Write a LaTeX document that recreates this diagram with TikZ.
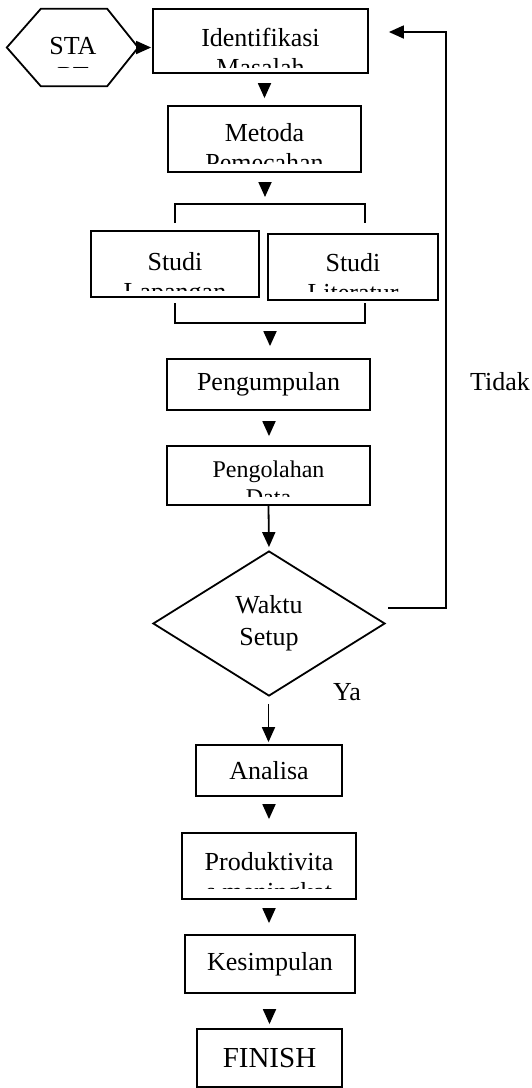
\documentclass[tikz,border=0pt]{standalone}
\usepackage{fontspec}
\setmainfont{Liberation Serif}
\usetikzlibrary{arrows.meta,shapes.geometric,calc}
\newcommand{\twoline}[2]{\begin{tabular}[t]{@{}c@{}}#1\\#2\end{tabular}}
\begin{document}
\begin{tikzpicture}[x=1pt,y=-1pt,
  box/.style={draw, line width=1.8pt, rectangle, inner sep=0pt, font=\fontsize{26}{30}\selectfont},
  txt/.style={inner sep=0pt, font=\fontsize{26}{30}\selectfont},
  txts/.style={inner sep=0pt, font=\fontsize{24}{28}\selectfont},
  ln/.style={line width=1.8pt},
  tri/.style={line width=1.8pt, -{Triangle[length=15pt,width=13pt]}}]
\useasboundingbox (0,0) rectangle (531,1088);

% START hexagon
\node[inner sep=0pt, minimum width=131pt, minimum height=77pt] (strt) at (72.5,47.5) {};
\draw[ln] (strt.west) -- ($(strt.north west)+(34,0)$) -- ($(strt.north east)+(-31,0)$)
  -- (strt.east) -- ($(strt.south east)+(-31,0)$) -- ($(strt.south west)+(34,0)$) -- cycle;
\coordinate (cS) at (0,67.5);
\begin{scope}
  \clip (strt.north west) rectangle (strt.east |- cS);
  \node[txt, anchor=base] (strtxt) at (73,54) {\twoline{STA}{RT}};
\end{scope}

% boxes
\node[box, minimum width=215pt, minimum height=64pt] (id) at (260.5,41) {};
\node[box, minimum width=193pt, minimum height=66pt] (met) at (264.5,139) {};
\node[box, minimum width=168pt, minimum height=66pt] (lap) at (175,264) {};
\node[box, minimum width=170pt, minimum height=66pt] (lit) at (353,267) {};
\node[box, minimum width=203pt, minimum height=51pt] (pg) at (268.5,384.5) {Pengumpulan};
\node[box, minimum width=203pt, minimum height=59pt] (pd) at (268.5,475.5) {};
\node[box, minimum width=146pt, minimum height=51pt] (an) at (269,770.5) {Analisa};
\node[box, minimum width=174pt, minimum height=66pt] (pr) at (269,866) {};
\node[box, minimum width=170pt, minimum height=58pt] (ks) at (270,964) {Kesimpulan};
\node[box, minimum width=145pt, minimum height=58pt, font=\fontsize{29}{33}\selectfont] (fin) at (269.5,1058) {FINISH};

% clipped two-line texts
\coordinate (cI) at (0,67);
\begin{scope}\clip (id.north west) rectangle (id.east |- cI);
  \node[txt, anchor=base] (idtxt) at (260.5,46) {\twoline{Identifikasi}{Masalah}};
\end{scope}
\coordinate (cM) at (0,163);
\begin{scope}\clip (met.north west) rectangle (met.east |- cM);
  \node[txt, anchor=base] (mettxt) at (264.5,141) {\twoline{Metoda}{Pemecahan}};
\end{scope}
\coordinate (cL) at (0,290);
\begin{scope}\clip (lap.north west) rectangle (lap.east |- cL);
  \node[txt, anchor=base] (laptxt) at (175,270) {\twoline{Studi}{Lapangan}};
\end{scope}
\coordinate (cT) at (0,291);
\begin{scope}\clip (lit.north west) rectangle (lit.east |- cT);
  \node[txt, anchor=base] (littxt) at (353,271) {\twoline{Studi}{Literatur}};
\end{scope}
\coordinate (cD) at (0,496);
\begin{scope}\clip (pd.north west) rectangle (pd.east |- cD);
  \node[txts, anchor=base] (pdtxt) at (268.5,477) {\twoline{Pengolahan}{Data}};
\end{scope}
\coordinate (cP) at (0,888);
\begin{scope}\clip (pr.north west) rectangle (pr.east |- cP);
  \node[txt, anchor=base] (prtxt) at (269,870) {\twoline{Produktivita}{s meningkat}};
\end{scope}

% decision
\node[draw, diamond, line width=1.8pt, minimum width=232pt, minimum height=145pt,
  inner sep=0pt, align=center, font=\fontsize{26}{32}\selectfont] (dia) at (269,623.5) {Waktu\\Setup};

% brackets
\coordinate (btl) at (175,223);
\coordinate (btr) at (365,223);
\coordinate (btm) at (265,204);
\draw[ln] (btl) -- ++(0,-19) -| (btr);
\coordinate (bbl) at (175,303);
\coordinate (bbr) at (365,303);
\coordinate (bbm) at (270,323);
\draw[ln] (bbl) -- ++(0,20) -| (bbr);

% arrows
\draw[tri, shorten >=1pt] (strt.east) -- (strt.east -| id.west);
\draw[tri, shorten <=10pt, shorten >=7pt] (id.south -| met.north) -- (met.north);
\draw[tri, shorten <=9pt, shorten >=7pt] (met.south -| btm) -- (btm);
\draw[tri, shorten <=9pt, shorten >=12pt] (bbm) -- (pg.north -| bbm);
\draw[tri, shorten <=13pt, shorten >=9pt] (pg.south -| an.north) -- (pd.north -| an.north);
\draw[tri, shorten >=3pt] (pd.south) -- (dia.north);
\draw[tri, shorten <=7pt, shorten >=2pt] (dia.south -| pd.south) -- (an.north -| pd.south);
\draw[tri, shorten <=10pt, shorten >=13pt] (an.south) -- (pr.north);
\draw[tri, shorten <=10pt, shorten >=11pt] (pr.south) -- (ks.north -| pr.south);
\draw[tri, shorten <=15pt, shorten >=4pt] (ks.south -| fin.north) -- (fin.north);

% feedback loop
\coordinate (fbs) at (388,608);
\coordinate (fbc) at (446,32);
\draw[tri, shorten >=20pt] (fbs) -| (fbc) -- (id.east |- fbc);

% labels
\node[txt, anchor=west] (tidak) at (470,382) {Tidak};
\node[txt] (ya) at (347,692) {Ya};
\end{tikzpicture}
\end{document}
